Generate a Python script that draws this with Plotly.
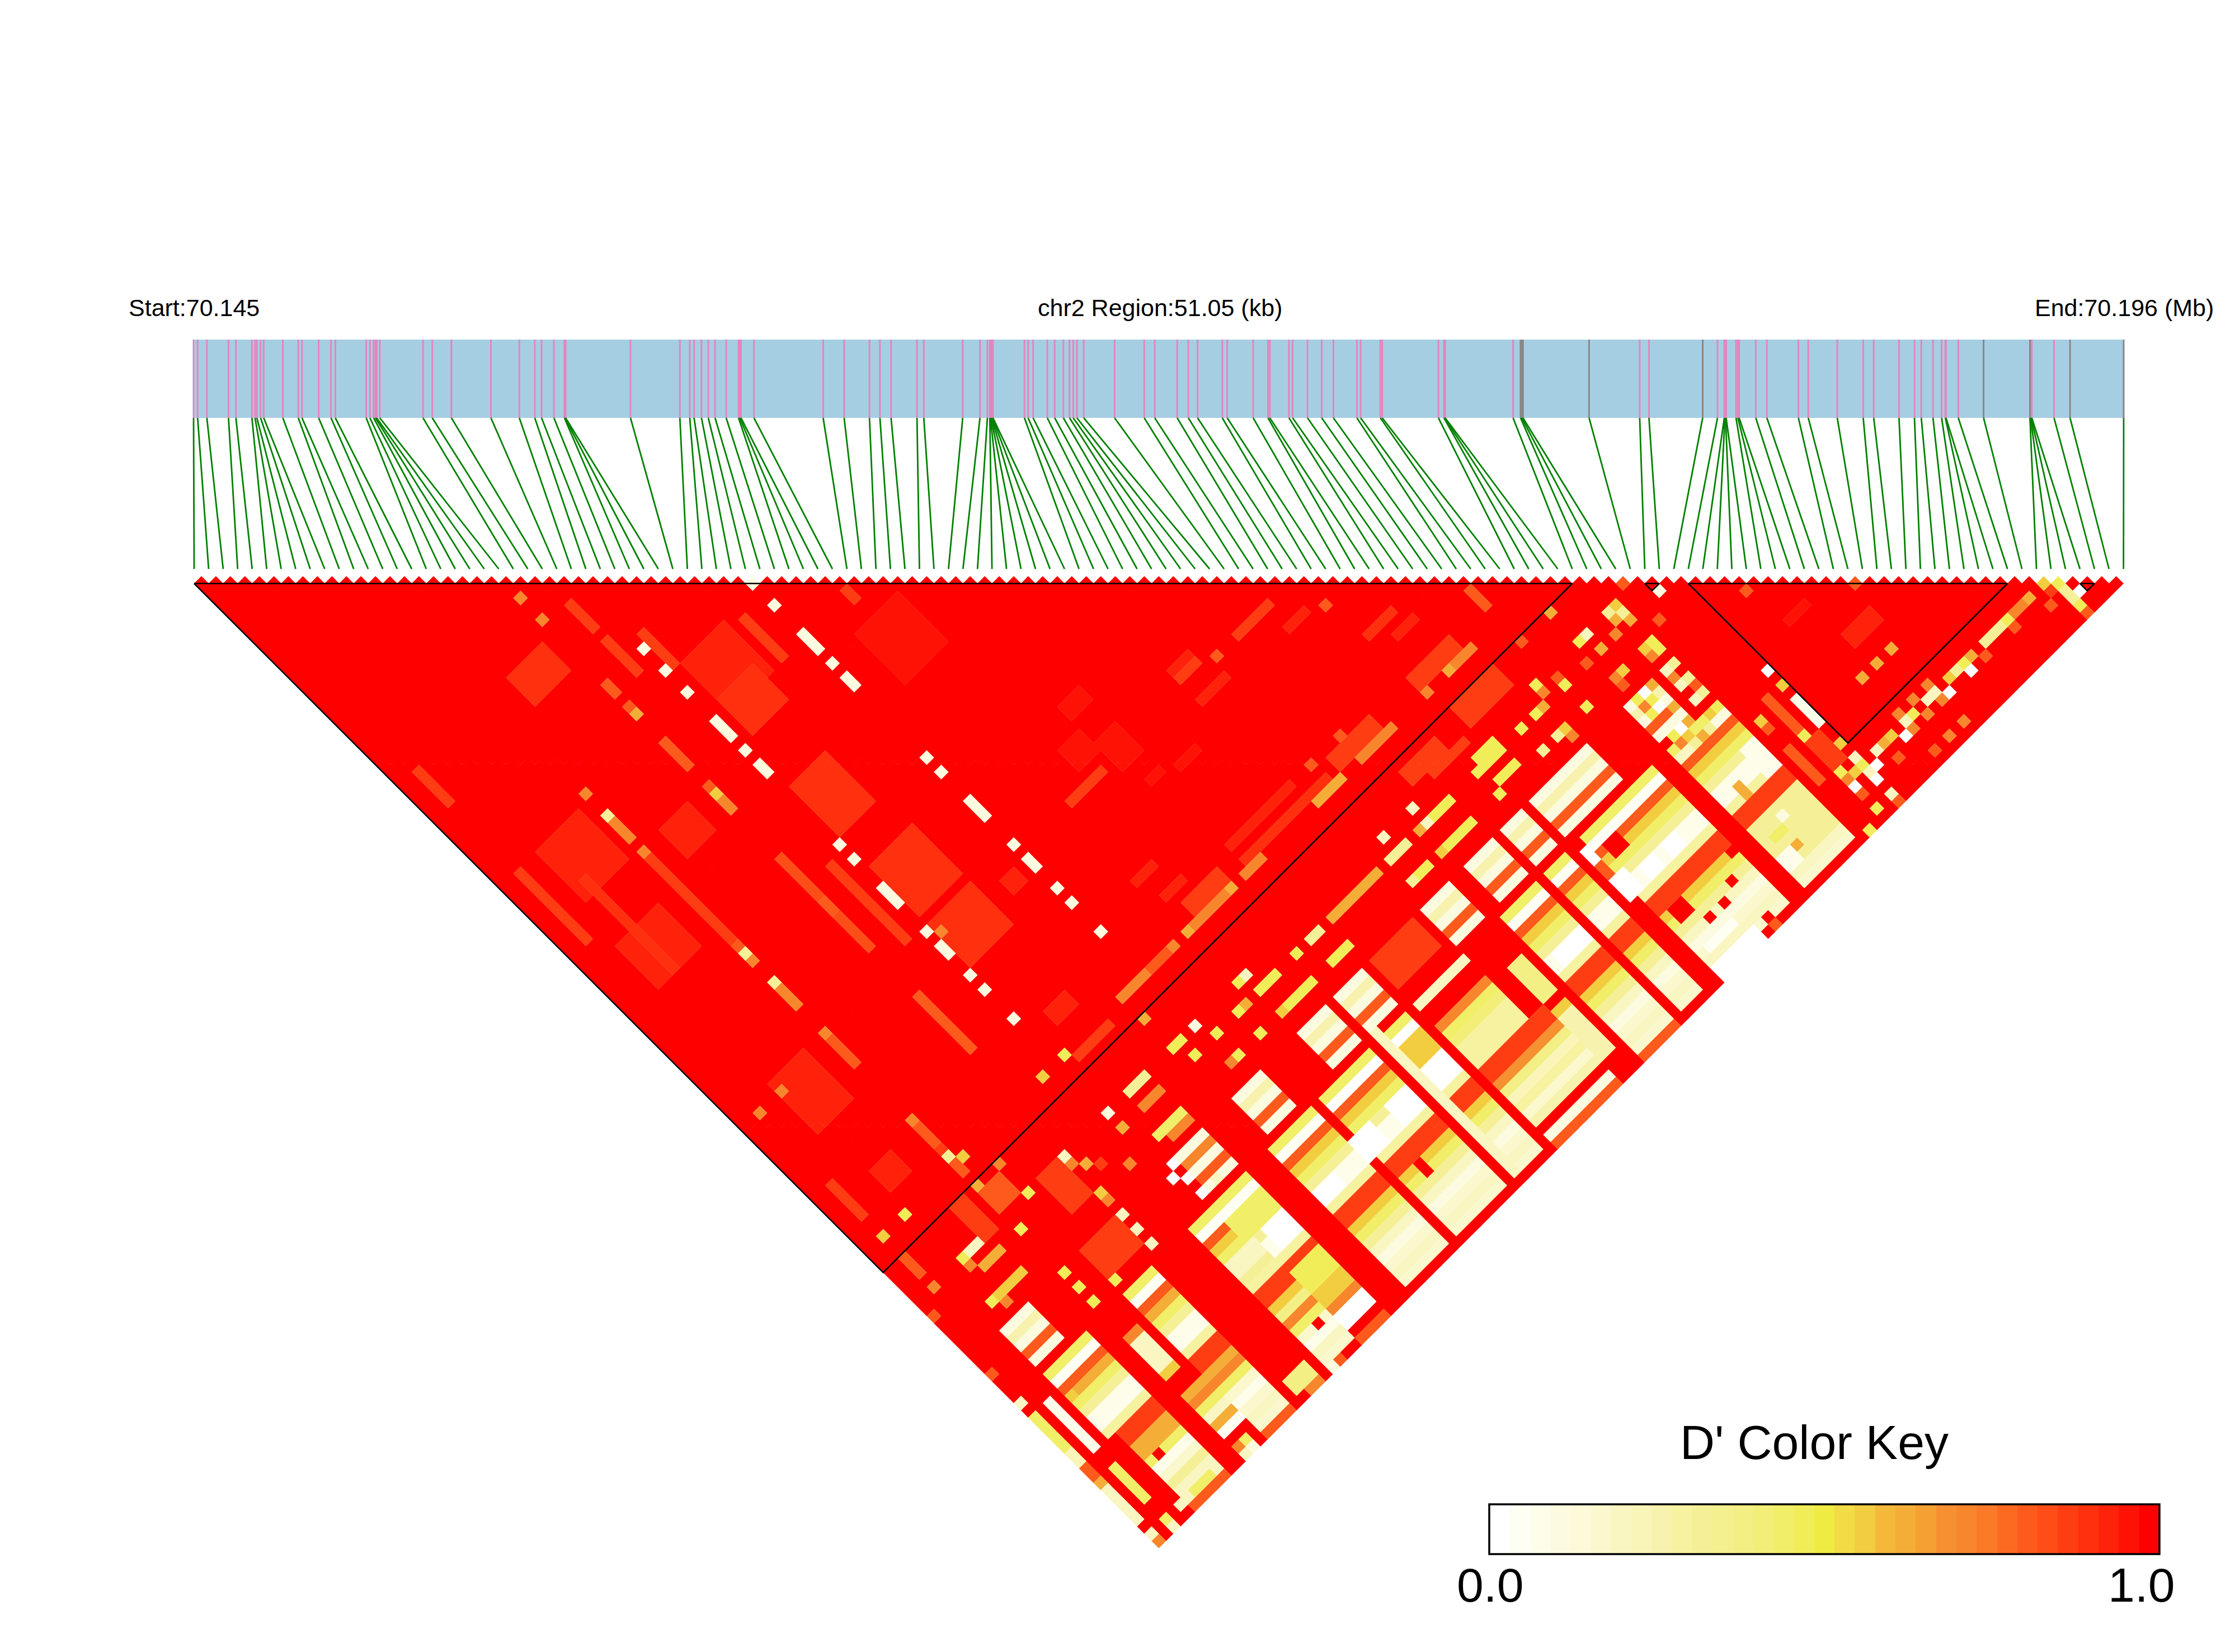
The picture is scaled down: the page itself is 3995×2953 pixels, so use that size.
import numpy as np
import plotly.graph_objects as go

# levels on the D' colour key (index into key_colors)
W, C, L, P, Y, G, A, O, T, F, E, R = 0, 3, 6, 10, 15, 18, 20, 23, 26, 28, 30, 32

key_colors = ["#FFFFFF", "#FEFEF3", "#FDFDEA", "#FCFBE0", "#FCFAD8", "#FAF8CC", "#F9F6C2", "#F9F5B8", "#F7F3AE",
              "#F6F2A0", "#F5F097", "#F4F08E", "#F3EF84", "#F2EE78", "#F1EE68", "#F1ED58", "#F0EB42", "#F2DC46",
              "#F2CD40", "#F4B83A", "#F4AE38", "#F5A033", "#F69030", "#F8862C", "#FA7A28", "#FC6A22", "#FE5A1C",
              "#FF4D17", "#FF3D12", "#FF300E", "#FF220A", "#FF1206", "#FF0000"]

# SNP positions along the region, kb from the start
snp_kb = [0.0, 0.107, 0.352, 0.924, 1.12, 1.544, 1.626, 1.675, 1.773, 1.855, 2.361, 2.769, 2.867, 3.308, 3.635, 3.749,
          4.566, 4.664, 4.762, 4.811, 4.843, 4.925, 6.068, 6.313, 6.82, 7.865, 8.616, 9.024, 9.204, 9.531, 9.808,
          9.825, 9.841, 11.556, 12.862, 13.124, 13.238, 13.434, 13.614, 13.793, 14.087, 14.414, 14.447, 14.479,
          14.822, 16.652, 17.207, 17.877, 18.154, 18.448, 19.134, 19.314, 20.343, 20.8, 20.996, 21.061, 21.077,
          21.094, 21.11, 21.127, 21.143, 21.976, 22.074, 22.205, 22.58, 22.776, 23.005, 23.168, 23.266, 23.364,
          23.544, 24.36, 25.144, 25.422, 26.016, 26.31, 26.555, 27.209, 27.339, 28.025, 28.417, 28.466, 28.972,
          29.07, 29.462, 29.838, 30.148, 30.769, 30.867, 31.39, 31.439, 32.925, 33.072, 33.088, 33.104, 34.9,
          35.097, 35.13, 35.162, 36.91, 38.249, 38.494, 39.915, 40.307, 40.487, 40.503, 40.519, 40.536, 40.797,
          40.846, 40.879, 41.319, 41.613, 42.447, 42.708, 43.475, 44.161, 44.439, 45.108, 45.517, 45.697, 46.007,
          46.235, 46.333, 46.35, 46.676, 47.345, 48.571, 48.587, 48.603, 48.62, 49.208, 49.632, 51.05]
grey_kb = [35.097, 35.13, 35.162, 36.91, 39.915, 47.345, 48.571, 49.632, 51.05]

# LD blocks as (first SNP, last SNP)
blocks = [(0, 95), (100, 101), (103, 125), (130, 131)]

# soft patches inside block 1, (i0, i1, j0, j1, level)
block_patches = [
    (15, 19, 29, 32, 29), (27, 31, 56, 62, 29), (15, 18, 50, 53, 30), (5, 10, 43, 49, 30), (27, 32, 67, 73, 29),
    (28, 33, 40, 46, 30), (28, 32, 45, 49, 29), (42, 47, 50, 56, 31), (27, 32, 75, 80, 29), (5, 9, 75, 81, 30),
    (4, 9, 55, 60, 30), (12, 12, 51, 62, F), (2, 2, 43, 52, F), (6, 6, 48, 60, 29), (2, 2, 29, 33, F),
    (24, 24, 64, 74, F), (21, 21, 79, 86, T), (21, 21, 60, 65, 27), (21, 21, 68, 72, 27), (21, 21, 36, 37, T),
    (21, 21, 39, 39, T), (21, 21, 44, 47, T), (21, 21, 50, 50, T), (21, 21, 66, 67, T), (24, 24, 28, 31, F),
    (24, 24, 33, 37, F), (27, 27, 35, 39, F), (35, 35, 41, 46, F), (44, 44, 46, 47, F), (12, 12, 63, 63, T),
    (12, 12, 46, 48, O), (12, 12, 65, 65, O), (12, 12, 69, 71, O), (12, 12, 76, 79, T), (12, 12, 93, 94, T),
    (68, 72, 76, 76, F), (72, 74, 79, 79, 30), (76, 76, 80, 80, T), (87, 87, 89, 91, T), (77, 80, 85, 85, 29),
    (79, 81, 87, 87, 30), (77, 82, 91, 92, F), (61, 63, 75, 75, F), (65, 65, 76, 76, T), (61, 63, 74, 74, 30),
    (61, 64, 78, 78, 30), (51, 53, 69, 70, 31), (51, 51, 76, 76, T), (53, 53, 76, 76, F), (48, 50, 72, 74, 31),
    (51, 53, 74, 77, 31), (45, 49, 76, 76, F), (52, 53, 80, 80, 31), (55, 57, 81, 81, 31), (53, 61, 90, 90, 30),
    (53, 64, 92, 92, 29), (68, 68, 90, 90, T), (66, 71, 91, 92, F), (64, 64, 90, 90, T), (44, 46, 86, 86, 30),
    (45, 47, 89, 89, 30), (46, 50, 91, 92, F), (28, 32, 94, 94, F), (29, 31, 89, 90, 30), (35, 36, 77, 78, 30),
    (12, 12, 87, 90, T), (12, 12, 91, 91, F), (6, 8, 88, 90, 30), (2, 2, 86, 90, F),
]
# cells of SNP 26 and SNP 38, pale against the red block
pale_26 = [36, 39, 42, 46, 47, 48, 50, 52, 53, 63, 65, 69, 70, 71, 75, 77, 78, 81, 83, 87, 100]
pale_38 = [39, 42, 46, 47, 48, 50, 52, 53, 63, 65, 69, 70, 71, 75, 77, 78, 81, 83, 87, 100]
# j=93 column inside block 1, (i0, i1, level)
col_93 = [(2, 2, G), (5, 5, Y), (24, 24, G), (27, 27, Y), (35, 38, O), (39, 41, T), (42, 42, O), (44, 44, A),
          (45, 49, O), (50, 50, A), (52, 54, O), (62, 64, A), (65, 65, A), (68, 72, O), (77, 77, O), (80, 80, A),
          (81, 83, O)]

# repeated column bands of the lower right, read per SNP group
ring_groups = [(4, 7), (28, 31), (36, 39), (45, 48), (50, 53), (62, 65), (68, 71), (73, 75), (77, 84), (90, 93)]
ring_levels = [(108, C), (109, 8), (110, 3), (111, T), (112, C)]
mid_groups = [(4, 9), (15, 18), (24, 27), (28, 31), (35, 40), (42, 48), (50, 53), (67, 71), (73, 75), (78, 87), (90, 96)]
mid_levels = [(114, 14), (115, 1), (116, T), (117, G), (118, 14), (119, P), (120, 2), (121, 2), (122, 9)]
low_groups = [(5, 9), (15, 18), (24, 27), (28, 31), (35, 40), (42, 48), (50, 53), (67, 71), (73, 75), (78, 87), (90, 96)]
low_levels = [(123, F), (124, F), (125, G), (126, 14), (127, P), (128, L), (129, 3), (130, 5), (131, 6), (132, 5)]

# single patches over the bands
low_patches = [
    (55, 61, 114, 114, L), (55, 61, 117, 117, O), (55, 61, 118, 118, 14), (55, 61, 119, 119, 13), (55, 61, 120, 122, 9),
    (55, 63, 123, 124, F), (55, 63, 125, 125, 22), (55, 63, 126, 126, 12), (55, 63, 127, 127, 7), (55, 63, 128, 128, 9),
    (55, 63, 129, 129, 5), (55, 63, 130, 130, 8), (55, 63, 132, 132, 3), (55, 63, 133, 133, T), (55, 60, 108, 111, F),
    (55, 61, 102, 102, A), (64, 65, 118, 122, 12), (64, 65, 125, 130, 8), (64, 65, 124, 124, G),
    (68, 71, 120, 121, 0), (67, 71, 133, 133, T), (78, 83, 132, 133, 0), (79, 80, 116, 117, R), (77, 78, 119, 121, 0),
    (80, 81, 120, 121, 0), (83, 84, 120, 121, 0), (77, 77, 115, 116, 0), (77, 77, 117, 118, T), (79, 80, 125, 126, R),
    (87, 87, 125, 125, R), (85, 85, 127, 127, R), (85, 85, 133, 133, T), (85, 85, 132, 132, R), (81, 81, 128, 128, R),
    (83, 83, 128, 128, R), (79, 82, 130, 130, 1), (90, 96, 123, 124, F), (95, 95, 122, 122, R), (94, 94, 127, 127, R),
    (95, 96, 119, 122, 2), (92, 92, 121, 122, A), (90, 96, 125, 130, P), (92, 92, 129, 129, A), (93, 93, 126, 126, 3),
    (90, 91, 129, 130, 2), (91, 92, 127, 127, 14), (42, 42, 115, 115, 0), (41, 43, 119, 121, 0), (46, 48, 119, 121, 0),
    (44, 44, 125, 126, R), (42, 48, 114, 114, 14), (44, 48, 115, 115, 0), (51, 53, 119, 121, 0), (50, 53, 116, 118, G),
    (50, 53, 114, 114, 14), (50, 53, 115, 115, 0), (50, 50, 113, 132, L), (35, 37, 120, 121, 0), (29, 31, 119, 121, 0),
    (27, 31, 116, 118, 14), (28, 31, 123, 123, F), (28, 31, 124, 126, 15), (28, 31, 127, 128, G), (28, 31, 129, 129, O),
    (28, 31, 130, 131, 0), (28, 31, 132, 132, R), (28, 31, 133, 133, T), (24, 27, 118, 118, 14), (24, 27, 119, 120, L),
    (24, 27, 121, 121, P), (24, 27, 126, 126, 12), (24, 27, 127, 127, O), (24, 27, 128, 128, 14), (24, 27, 129, 129, 5),
    (24, 27, 130, 130, 2), (26, 26, 129, 129, R), (15, 18, 117, 117, A), (15, 18, 123, 124, F), (14, 18, 125, 125, A),
    (14, 18, 126, 126, O), (14, 18, 127, 127, 14), (14, 18, 128, 128, 5), (14, 18, 129, 129, 2), (14, 18, 130, 130, 5),
    (12, 13, 117, 117, O), (12, 13, 118, 121, L), (12, 13, 122, 122, G), (12, 14, 125, 125, A), (12, 14, 126, 126, O),
    (12, 14, 127, 127, 14), (12, 14, 128, 128, L), (12, 14, 129, 129, A), (12, 14, 130, 130, 1), (5, 9, 126, 126, A),
    (5, 9, 127, 127, 14), (5, 9, 128, 128, 2), (5, 9, 129, 129, 5), (5, 9, 130, 130, P), (6, 6, 127, 127, R),
    (5, 9, 123, 124, F), (5, 9, 125, 125, A), (5, 9, 117, 117, A), (5, 9, 120, 121, 2), (5, 8, 132, 132, 14),
    (9, 9, 132, 132, L), (5, 9, 133, 133, T), (2, 2, 116, 122, 2), (2, 2, 125, 129, 14), (2, 2, 132, 132, 14),
    (2, 2, 133, 133, L), (0, 0, 114, 114, L), (0, 0, 116, 120, 14), (0, 0, 121, 122, 7), (0, 0, 123, 124, T),
    (0, 0, 125, 125, A), (0, 0, 126, 130, L), (0, 0, 132, 132, L), (0, 0, 133, 133, O), (4, 5, 132, 132, L),
    (13, 13, 132, 132, 14), (12, 12, 132, 132, O), (13, 13, 133, 133, C), (12, 12, 133, 133, L), (15, 18, 133, 133, T),
    (21, 22, 133, 133, O), (24, 24, 133, 133, C), (25, 25, 133, 133, T), (20, 22, 131, 132, 12),
    # above the block line, single columns j=96 to j=107
    (29, 31, 100, 100, P), (29, 31, 102, 102, O), (28, 31, 105, 105, 14), (29, 31, 106, 106, O), (28, 31, 109, 109, O),
    (69, 71, 102, 102, Y), (68, 68, 102, 102, L), (67, 67, 102, 102, A), (68, 68, 100, 100, L), (76, 78, 101, 102, Y),
    (75, 75, 102, 102, Y), (76, 78, 104, 104, Y), (75, 75, 105, 105, Y), (68, 71, 105, 105, Y), (67, 67, 105, 105, G),
    (64, 65, 105, 105, Y), (63, 63, 105, 105, P), (63, 65, 102, 102, P), (64, 64, 100, 100, L), (52, 53, 102, 102, P),
    (50, 50, 102, 102, Y), (52, 54, 105, 105, Y), (85, 85, 100, 100, Y), (85, 85, 101, 101, O), (87, 87, 102, 102, Y),
    (87, 87, 101, 101, T), (84, 84, 102, 102, A), (83, 83, 102, 102, Y), (87, 87, 105, 105, Y), (84, 84, 105, 105, G),
    (84, 84, 106, 106, O), (83, 83, 105, 105, P), (81, 81, 102, 102, Y), (81, 81, 105, 105, P), (91, 91, 96, 96, A),
    (87, 87, 96, 96, T), (70, 74, 97, 98, F), (78, 83, 96, 98, F), (72, 76, 99, 99, F), (45, 45, 100, 100, L),
    (45, 47, 102, 102, Y), (42, 42, 102, 102, Y), (43, 43, 102, 102, A), (39, 39, 102, 102, Y), (42, 42, 105, 105, Y),
    (39, 39, 105, 105, Y), (38, 38, 105, 105, O), (46, 49, 105, 105, Y), (45, 45, 105, 105, G), (36, 36, 100, 100, Y),
    (36, 36, 102, 102, Y), (35, 35, 100, 100, Y), (44, 44, 100, 100, Y), (26, 26, 102, 102, A), (21, 21, 102, 102, A),
    (20, 20, 100, 100, L), (20, 20, 101, 101, O), (20, 20, 105, 105, G), (20, 20, 106, 106, O), (15, 15, 100, 100, Y),
    (17, 17, 102, 102, A), (20, 20, 108, 108, L), (20, 20, 110, 110, L), (20, 20, 112, 112, L), (27, 27, 108, 108, 0),
    (26, 26, 109, 109, 0), (27, 27, 110, 110, 0), (27, 27, 112, 112, 0), (29, 29, 112, 112, L), (24, 24, 105, 105, O),
    (22, 22, 103, 103, F), (35, 35, 96, 96, A), (15, 15, 96, 96, O), (12, 12, 96, 96, A), (12, 14, 97, 99, T),
    (2, 2, 96, 98, T), (2, 2, 100, 100, O), (0, 0, 102, 102, T), (12, 12, 102, 102, Y), (12, 12, 108, 108, Y),
    (12, 12, 110, 110, Y), (12, 12, 112, 112, Y), (15, 15, 112, 112, Y), (7, 9, 100, 100, L), (6, 6, 100, 100, Y),
    (6, 6, 101, 101, O), (7, 9, 102, 102, A), (6, 9, 105, 105, G), (5, 5, 105, 105, Y), (6, 6, 106, 106, O),
    (17, 19, 100, 104, F), (15, 19, 108, 111, F), (9, 10, 96, 100, F), (0, 0, 110, 110, T),
    # right hand corner
    (95, 95, 100, 100, P), (96, 96, 100, 100, G), (95, 95, 101, 101, A), (96, 96, 101, 101, P), (96, 96, 102, 102, A),
    (94, 94, 102, 102, O), (100, 100, 102, 102, C), (98, 98, 99, 99, T), (98, 98, 104, 104, T), (92, 92, 100, 100, L),
    (91, 91, 100, 100, Y), (92, 92, 102, 102, A), (90, 90, 102, 102, T), (96, 96, 105, 106, Y), (95, 95, 105, 105, G),
    (95, 95, 106, 106, O), (96, 96, 108, 108, P), (95, 95, 108, 108, L), (95, 95, 109, 109, O), (96, 96, 110, 110, P),
    (95, 95, 110, 110, L), (96, 96, 111, 111, T), (96, 96, 112, 112, P), (95, 95, 112, 112, L), (92, 92, 105, 105, G),
    (91, 91, 105, 105, O), (91, 91, 106, 106, T), (93, 93, 108, 108, A), (92, 92, 108, 108, 0), (91, 91, 108, 108, Y),
    (92, 92, 109, 109, Y), (91, 91, 109, 109, O), (92, 92, 110, 110, 0), (91, 91, 110, 110, Y), (93, 93, 111, 111, A),
    (93, 93, 113, 113, A), (92, 92, 113, 113, 0), (91, 91, 113, 113, Y), (96, 96, 114, 114, Y), (95, 95, 114, 114, G),
    (96, 96, 115, 115, C), (95, 95, 115, 115, C), (94, 94, 115, 115, P), (93, 93, 115, 115, A), (92, 92, 114, 114, G),
    (92, 92, 115, 115, P), (91, 91, 114, 114, O), (91, 91, 115, 115, L), (90, 90, 115, 115, L),
    (102, 102, 115, 115, 0), (102, 102, 117, 117, G), (102, 102, 119, 122, 2), (100, 100, 122, 122, Y),
    (102, 102, 125, 125, G), (100, 100, 117, 121, T), (100, 101, 123, 126, F), (98, 98, 122, 125, T),
    (98, 98, 126, 126, T), (98, 98, 118, 118, G), (98, 98, 119, 119, T), (100, 100, 127, 127, Y), (102, 102, 127, 127, L),
    (102, 102, 128, 128, Y), (101, 101, 128, 128, G), (100, 100, 128, 128, O), (102, 102, 129, 129, L),
    (103, 103, 129, 129, 0), (100, 100, 129, 129, 0), (100, 100, 130, 130, T), (102, 102, 130, 130, 0),
    (102, 102, 132, 132, L), (102, 102, 133, 133, T), (100, 100, 132, 132, Y), (98, 98, 133, 133, Y),
    (105, 105, 130, 130, T), (106, 106, 108, 108, T), (104, 104, 128, 128, L), (105, 105, 128, 128, A),
    (106, 106, 128, 128, G), (107, 107, 129, 129, 0), (108, 108, 129, 129, O), (108, 108, 128, 128, L),
    (108, 108, 127, 127, O), (109, 109, 128, 128, Y), (111, 111, 128, 128, L), (110, 110, 127, 127, O),
    (112, 112, 128, 128, L), (113, 113, 129, 129, 0), (112, 112, 129, 129, O), (112, 112, 127, 127, O),
    (110, 110, 129, 129, O), (110, 110, 132, 132, O), (112, 112, 132, 132, O), (108, 108, 132, 132, T),
    (114, 114, 128, 128, G), (115, 115, 128, 128, P), (116, 116, 128, 128, Y), (117, 117, 128, 128, A),
    (116, 116, 129, 129, 0), (119, 120, 128, 128, P), (121, 121, 128, 128, P), (122, 122, 128, 128, Y),
    (123, 124, 128, 128, O), (125, 125, 128, 128, A), (122, 122, 129, 129, T), (118, 118, 129, 129, T),
    (127, 127, 128, 128, G), (128, 128, 129, 129, Y), (127, 127, 129, 129, F), (128, 128, 130, 130, P),
    (128, 128, 131, 131, P), (128, 128, 132, 132, Y), (128, 128, 133, 133, T), (129, 129, 131, 131, 0),
    (126, 126, 130, 130, T), (108, 108, 122, 122, A), (110, 110, 122, 122, A), (112, 112, 122, 122, A),
    (114, 114, 115, 115, T), (107, 109, 113, 113, 31), (110, 113, 118, 119, 30),
]

N = len(snp_kb)
cell = 25.93
x0, y0 = 347.0, 1043.0
bar_left, bar_w = 346.0, 3450.0
region_kb = 51.05
page_margin = 8  # the page body keeps a default margin

# build the D' matrix from the readings
d_level = np.full((N, N), R, dtype=int)


def paint(i0, i1, j0, j1, lev):
    d_level[i0:i1 + 1, j0:min(j1, N - 1) + 1] = lev


for i0, i1, j0, j1, lev in block_patches:
    paint(i0, i1, j0, j1, lev)
for (a, b) in ring_groups:
    for j, lev in ring_levels:
        paint(a, b, j, j, lev)
for (a, b) in mid_groups:
    for j, lev in mid_levels:
        paint(a, b, j, j, lev)
for (a, b) in low_groups:
    for j, lev in low_levels:
        paint(a, b, j, j, lev)
for i0, i1, j0, j1, lev in low_patches:
    paint(i0, i1, j0, j1, lev)
for j in pale_26:
    d_level[26, j] = C
for j in pale_38:
    d_level[38, j] = C
for i0, i1, lev in col_93:
    paint(i0, i1, 93, 93, lev)
d_level[12, 42] = O
d_level[12, 45] = P
d_level[12, 50] = O
d_level[12, 64] = P
d_level[12, 68] = P
d_level[12, 75] = O
d_level[12, 87] = O
d_level[12, 92] = P
d_level[13, 93] = G
d_level[21, 24] = O
d_level[21, 27] = O
d_level[21, 40] = A
d_level[21, 51] = G
d_level[21, 52:54] = O
d_level[27, 76] = O
d_level[5, 76] = O
d_level[2, 76] = O

fig = go.Figure()

# one filled trace per colour level, diamonds split by None
half = cell / 2
for lev in sorted(set(d_level[np.triu_indices(N, 1)].tolist()), reverse=True):
    xs, ys = [], []
    for i in range(N):
        for j in range(i + 1, N):
            if d_level[i, j] != lev:
                continue
            cx = x0 + (i + j) * half
            cy = y0 + (j - i - 1) * half
            xs += [cx - half, cx, cx + half, cx, cx - half, None]
            ys += [cy, cy - half, cy, cy + half, cy, None]
    fig.add_trace(go.Scatter(x=xs, y=ys, mode="lines", fill="toself", fillcolor=key_colors[lev],
                             line=dict(color=key_colors[lev], width=0.4), hoverinfo="skip", showlegend=False))

# block outlines
for a, b in blocks:
    xa = x0 + a * cell
    xb = x0 + b * cell
    fig.add_trace(go.Scatter(x=[xa, xb, (xa + xb) / 2, xa], y=[y0, y0, y0 + (b - a) * half, y0], mode="lines",
                             line=dict(color="black", width=2.6), hoverinfo="skip", showlegend=False))

# SNP ticks on the bar and the connectors
bar_top, bar_bottom, link_bottom = 607, 747, 1017
top_x = [bar_left + k / region_kb * bar_w for k in snp_kb]
pink_x, pink_y, grey_x, grey_y, link_x, link_y = [], [], [], [], [], []
for n, (k, px) in enumerate(zip(snp_kb, top_x)):
    if k in grey_kb:
        grey_x += [px, px, None]
        grey_y += [bar_top, bar_bottom, None]
    else:
        pink_x += [px, px, None]
        pink_y += [bar_top, bar_bottom, None]
    link_x += [px, x0 + n * cell, None]
    link_y += [bar_bottom, link_bottom, None]
fig.add_trace(go.Scatter(x=pink_x, y=pink_y, mode="lines", line=dict(color="#E485BE", width=3), showlegend=False, hoverinfo="skip"))
fig.add_trace(go.Scatter(x=grey_x, y=grey_y, mode="lines", line=dict(color="#888888", width=3), showlegend=False, hoverinfo="skip"))
fig.add_trace(go.Scatter(x=link_x, y=link_y, mode="lines", line=dict(color="#008000", width=2.8), showlegend=False, hoverinfo="skip"))

# colour key
key_left, key_right, key_top, key_bottom = 2662, 3860, 2689, 2778
key_step = (key_right - key_left) / len(key_colors)
fig.add_trace(go.Heatmap(z=[list(range(len(key_colors)))], x=[key_left + n * key_step for n in range(len(key_colors) + 1)],
                         y=[key_top, key_bottom], colorscale=[[n / (len(key_colors) - 1), c] for n, c in enumerate(key_colors)],
                         showscale=False, hoverinfo="skip"))

fig.add_shape(type="rect", x0=bar_left, x1=bar_left + bar_w, y0=bar_top, y1=bar_bottom, fillcolor="#A6CEE3", line_width=0, layer="below")
fig.add_shape(type="rect", x0=key_left, x1=key_right, y0=key_top, y1=key_bottom, line=dict(color="black", width=3.5))

small = dict(family="Liberation Sans", size=43, color="black")
big = dict(family="Liberation Sans", size=86, color="black")
fig.add_annotation(x=228, y=550, text="Start:70.145", xanchor="left", yanchor="middle", showarrow=False, font=small)
fig.add_annotation(x=2073, y=550, text="chr2 Region:51.05 (kb)", xanchor="center", yanchor="middle", showarrow=False, font=small)
fig.add_annotation(x=3635, y=550, text="End:70.196 (Mb)", xanchor="left", yanchor="middle", showarrow=False, font=small)
fig.add_annotation(x=3243, y=2578, text="D' Color Key", xanchor="center", yanchor="middle", showarrow=False, font=big)
fig.add_annotation(x=2664, y=2833, text="0.0", xanchor="center", yanchor="middle", showarrow=False, font=big)
fig.add_annotation(x=3828, y=2833, text="1.0", xanchor="center", yanchor="middle", showarrow=False, font=big)

fig.update_layout(width=3995, height=2953, margin=dict(l=0, r=0, t=0, b=0), plot_bgcolor="white", paper_bgcolor="white",
                  showlegend=False)
fig.update_xaxes(range=[page_margin, 3995 + page_margin], visible=False)
fig.update_yaxes(range=[2953 + page_margin, page_margin], visible=False)

fig.write_html("out.html")
